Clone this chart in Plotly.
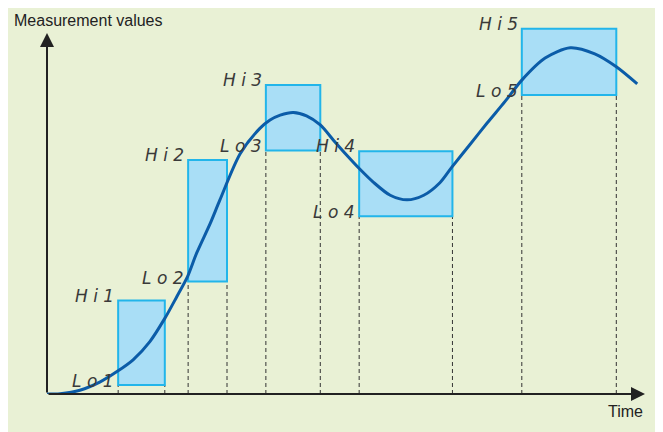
import plotly.graph_objects as go

# window limits (time / measurement in arbitrary units)
windows = ["1", "2", "3", "4", "5"]
t_start = [11.9, 23.6, 36.6, 52.2, 79.4]
t_end = [19.7, 30.1, 45.7, 67.8, 95.2]
hi_vals = [24.6, 61.6, 81.3, 63.9, 96.1]
lo_vals = [2.4, 29.6, 64.1, 46.8, 78.7]

time = [0, 2.2, 5.5, 8.9, 11.7, 14.4, 17.2, 19.7, 21.7, 23.5, 25.0, 27.3, 28.9,
        32.3, 35.6, 37.3, 39.0, 41.2, 43.4, 45.7, 47.9, 50.1, 52.3, 54.6, 57.4,
        60.2, 63.0, 65.7, 67.7, 70.7, 73.6, 76.6, 79.4, 83.3, 87.5, 91.6, 95.2, 98.7]
values = [0, 0.1, 1.0, 3.2, 5.9, 9.0, 13.8, 19.9, 25.6, 30.9, 37.0, 44.9, 51.0,
          63.2, 69.9, 72.1, 73.4, 74.1, 73.2, 70.8, 66.8, 62.9, 59.2, 55.7, 52.3,
          51.1, 52.3, 55.6, 59.7, 65.6, 71.3, 77.0, 82.6, 88.4, 91.1, 89.5, 86.1, 81.6]

BG = "#e9f1d5"
BOX_FILL = "#a9def6"
BOX_LINE = "#22b5ea"
CURVE = "#0b5ca8"
INK = "#222222"
SEG_FONT = dict(family="DejaVu Sans", size=17, color="#3a3a3a")
LABEL_FONT = dict(family="Liberation Sans, Arial", size=16, color=INK)

fig = go.Figure()

shapes = []
for ts, te, hi, lo in zip(t_start, t_end, hi_vals, lo_vals):
    # dashed drop lines from the window bottom to the time axis
    for t in (ts, te):
        shapes.append(dict(type="line", xref="x", yref="y", x0=t, x1=t, y0=0, y1=lo,
                           line=dict(color="#333333", width=1, dash="4px,3px"),
                           layer="below"))
    shapes.append(dict(type="rect", xref="x", yref="y", x0=ts, x1=te, y0=lo, y1=hi,
                       fillcolor=BOX_FILL, line=dict(color=BOX_LINE, width=2),
                       layer="below"))

fig.add_trace(go.Scatter(
    x=time, y=values, mode="lines",
    line=dict(color=CURVE, width=3, shape="spline", smoothing=0.8),
    hoverinfo="skip", showlegend=False,
))

annotations = []
for name, ts, hi, lo in zip(windows, t_start, hi_vals, lo_vals):
    annotations.append(dict(x=ts, y=hi, xref="x", yref="y", text="<i>H i " + name + "</i>",
                            showarrow=False, xanchor="right", yanchor="middle",
                            xshift=-2, yshift=5, font=SEG_FONT))
    annotations.append(dict(x=ts, y=lo, xref="x", yref="y", text="<i>L o " + name + "</i>",
                            showarrow=False, xanchor="right", yanchor="middle",
                            xshift=-2, yshift=4, font=SEG_FONT))

# axes with arrow heads
annotations.append(dict(x=100, y=0, ax=0, ay=0, xref="x", yref="y", axref="x", ayref="y",
                        text="", showarrow=True, arrowhead=2, arrowsize=1.4,
                        arrowwidth=2, arrowcolor=INK, standoff=0))
annotations.append(dict(x=0, y=95, ax=0, ay=0, xref="x", yref="y", axref="x", ayref="y",
                        text="", showarrow=True, arrowhead=2, arrowsize=1.4,
                        arrowwidth=2, arrowcolor=INK, standoff=0))

annotations.append(dict(x=-0.0585, y=0.984, xref="paper", yref="paper",
                        text="Measurement values", showarrow=False,
                        xanchor="left", yanchor="middle", font=LABEL_FONT))
annotations.append(dict(x=1.0, y=-0.045, xref="paper", yref="paper",
                        text="Time", showarrow=False,
                        xanchor="right", yanchor="middle", font=LABEL_FONT))

fig.update_layout(
    width=655,
    height=424,
    margin=dict(l=39, r=18, t=6, b=38),
    paper_bgcolor=BG,
    plot_bgcolor=BG,
    shapes=shapes,
    annotations=annotations,
    showlegend=False,
    xaxis=dict(range=[0, 100], visible=False, fixedrange=True),
    yaxis=dict(range=[0, 100], visible=False, fixedrange=True),
)

fig.write_html("out.html", config={"displayModeBar": False})
